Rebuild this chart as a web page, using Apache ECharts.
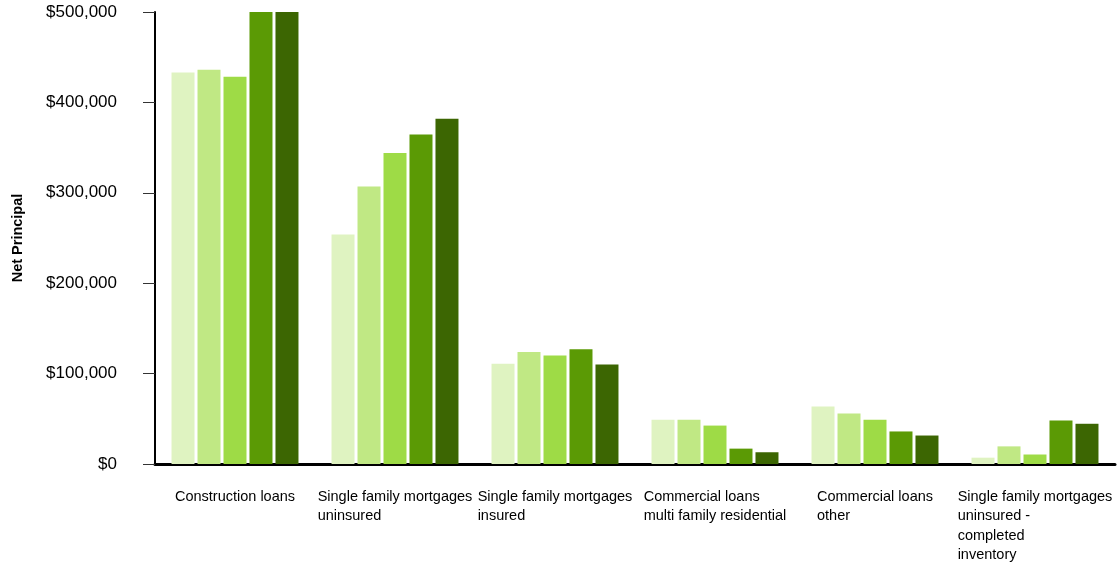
<!DOCTYPE html>
<html>
<head>
<meta charset="UTF-8">
<title>Net Principal</title>
<script src="https://cdn.jsdelivr.net/npm/echarts@6/dist/echarts.min.js"></script>
<style>
  html, body { margin: 0; padding: 0; background: #fff; }
</style>
</head>
<body>
<div id="main" style="width: 1119px; height: 565px;"></div>
<script>
// categories, with line breaks as they wrap in the picture
var categories = [
  'Construction loans',
  'Single family mortgages\nuninsured',
  'Single family mortgages\ninsured',
  'Commercial loans\nmulti family residential',
  'Commercial loans\nother',
  'Single family mortgages\nuninsured -\ncompleted\ninventory'
];

// five periods, lightest to darkest
var s1 = [433000, 254000, 111000, 49000, 63500, 7000];
var s2 = [436000, 307000, 124000, 49000, 56000, 19500];
var s3 = [428500, 344000, 120000, 42500, 49000, 10500];
var s4 = [500000, 364500, 127000, 17000, 36000, 48000];
var s5 = [500000, 382000, 110000, 13000, 31500, 44500];

var colors = ['#dff3c1', '#c0e884', '#9edb46', '#5b9a05', '#3c6602'];
var yTicks = [0, 100000, 200000, 300000, 400000, 500000];

var myChart = echarts.init(document.getElementById('main'));

function money(v) {
  return '$' + v.toLocaleString('en-US');
}

var seriesData = [s1, s2, s3, s4, s5];
var series = seriesData.map(function (d, i) {
  return {
    type: 'bar',
    data: d,
    barWidth: 23,
    barGap: '13%',
    itemStyle: { color: colors[i] }
  };
});

var option = {
  animation: false,
  grid: { left: 155, right: 4, top: 12, bottom: 101, outerBoundsMode: 'none' },
  xAxis: {
    type: 'category',
    data: categories,
    axisLine: { lineStyle: { color: '#000', width: 3 } },
    axisTick: { show: false },
    axisLabel: {
      interval: 0,
      margin: 23,
      fontFamily: 'Liberation Sans',
      fontSize: 14.5,
      color: '#000',
      lineHeight: 19.5,
      verticalAlign: 'top',
      formatter: function (v) {
        return v.split('\n').map(function (l) { return '{a|' + l + '}'; }).join('\n');
      },
      rich: { a: { align: 'left', fontFamily: 'Liberation Sans', fontSize: 14.5, lineHeight: 19.5, color: '#000' } }
    }
  },
  yAxis: {
    type: 'value',
    min: yTicks[0],
    max: yTicks[yTicks.length - 1],
    interval: 100000,
    name: 'Net Principal',
    nameLocation: 'middle',
    nameGap: 130,
    nameRotate: 90,
    nameTextStyle: { fontFamily: 'Liberation Sans', fontWeight: 'bold', fontSize: 14.5, color: '#000' },
    axisLine: { show: true, lineStyle: { color: '#000', width: 2 } },
    axisTick: { show: true, length: 12, lineStyle: { color: '#333', width: 1 } },
    splitLine: { show: false },
    axisLabel: {
      margin: 38,
      fontFamily: 'Liberation Sans',
      fontSize: 17,
      color: '#000',
      formatter: money
    }
  },
  series: series
};

myChart.setOption(option);
</script>
</body>
</html>
